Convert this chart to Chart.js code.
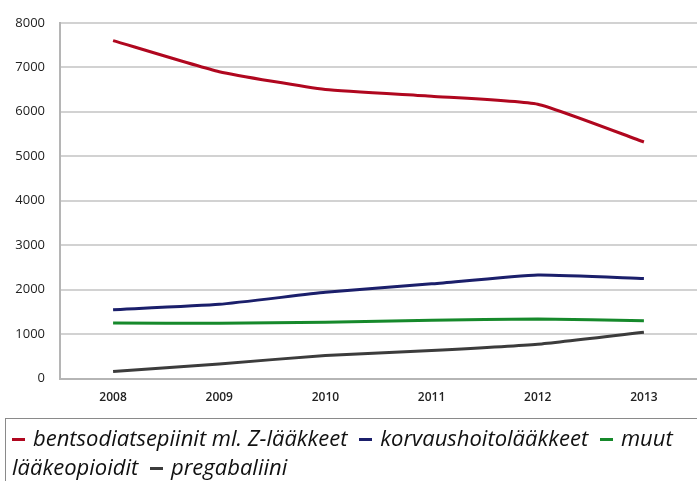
<!DOCTYPE html>
<html lang="fi">
<head>
    <meta charset="UTF-8">
    <title>Lääkkeet 2008-2013</title>
    <script src="https://cdn.jsdelivr.net/npm/chart.js"></script>
    <style>
        body {
            margin: 0;
            padding: 0;
            background-color: #fff;
            font-family: "Open Sans", Arial, sans-serif;
        }
        .wrap {
            position: relative;
            width: 697px;
            height: 481px;
            overflow: hidden;
        }
        .chart-box {
            position: absolute;
            left: 0;
            top: 0;
            width: 697px;
            height: 421px;
        }
        #legend {
            position: absolute;
            left: 5px;
            top: 418px;
            width: 700px;
            height: 80px;
            border: 1px solid #8a8a8a;
            box-sizing: border-box;
            padding: 4px 0 0 6px;
            font-style: italic;
            font-size: 22px;
            line-height: 29px;
            color: #111;
        }
        #legend .mark {
            display: inline-block;
            width: 13px;
            height: 3px;
            vertical-align: middle;
            margin-right: 8px;
            position: relative;
            top: -1px;
        }
        #legend .item {
            margin-right: 6px;
        }
    </style>
</head>
<body>
    <div class="wrap">
        <div class="chart-box">
            <canvas id="drugChart"></canvas>
        </div>
        <div id="legend"></div>
    </div>

    <script>
        const years = ['2008', '2009', '2010', '2011', '2012', '2013'];
        const yTicks = [0, 1000, 2000, 3000, 4000, 5000, 6000, 7000, 8000];

        const bentsodiatsepiinit = [7600, 6900, 6500, 6350, 6170, 5320];
        const korvaushoito = [1550, 1670, 1940, 2130, 2330, 2250];
        const muutOpioidit = [1250, 1245, 1265, 1310, 1340, 1300];
        const pregabaliini = [160, 330, 520, 630, 770, 1040];

        const seriesNames = [
            'bentsodiatsepiinit ml. Z-lääkkeet',
            'korvaushoitolääkkeet',
            'muut lääkeopioidit',
            'pregabaliini'
        ];
        const seriesColors = ['#b0071f', '#1b1f6b', '#16892b', '#3c3c3c'];
        const seriesValues = [bentsodiatsepiinit, korvaushoito, muutOpioidit, pregabaliini];

        const datasets = seriesNames.map((name, i) => ({
            label: name,
            data: seriesValues[i],
            borderColor: seriesColors[i],
            backgroundColor: seriesColors[i],
            borderWidth: 3,
            pointRadius: 0,
            tension: 0.15,
            fill: false
        }));

        const chart = new Chart(document.getElementById('drugChart'), {
            type: 'line',
            data: { labels: years, datasets: datasets },
            options: {
                responsive: true,
                maintainAspectRatio: false,
                animation: false,
                layout: { padding: { top: 5, right: 0, bottom: 4, left: 0 } },
                plugins: {
                    legend: { display: false },
                    tooltip: { enabled: false }
                },
                scales: {
                    x: {
                        offset: true,
                        grid: { display: false, drawTicks: false },
                        border: { color: '#b5b5b5', width: 2 },
                        ticks: {
                            padding: 12,
                            color: '#222',
                            font: { family: 'Open Sans', size: 12, weight: '600' }
                        }
                    },
                    y: {
                        min: 0,
                        max: 8000,
                        afterBuildTicks: scale => {
                            scale.ticks = yTicks.map(v => ({ value: v }));
                        },
                        afterFit: scale => { scale.width = 60; },
                        grid: { color: '#d2d2d2', lineWidth: 2, drawTicks: false },
                        border: { color: '#b5b5b5', width: 2 },
                        ticks: {
                            padding: 15,
                            color: '#222',
                            font: { family: 'Open Sans', size: 13, weight: '500' },
                            callback: v => String(v)
                        }
                    }
                }
            }
        });

        // HTML legend so the text can wrap like the original
        const legendEl = document.getElementById('legend');
        legendEl.innerHTML = chart.data.datasets.map(ds =>
            '<span class="item"><span class="mark" style="background:' + ds.borderColor + '"></span>' + ds.label + '</span>'
        ).join(' ');
    </script>
</body>
</html>
